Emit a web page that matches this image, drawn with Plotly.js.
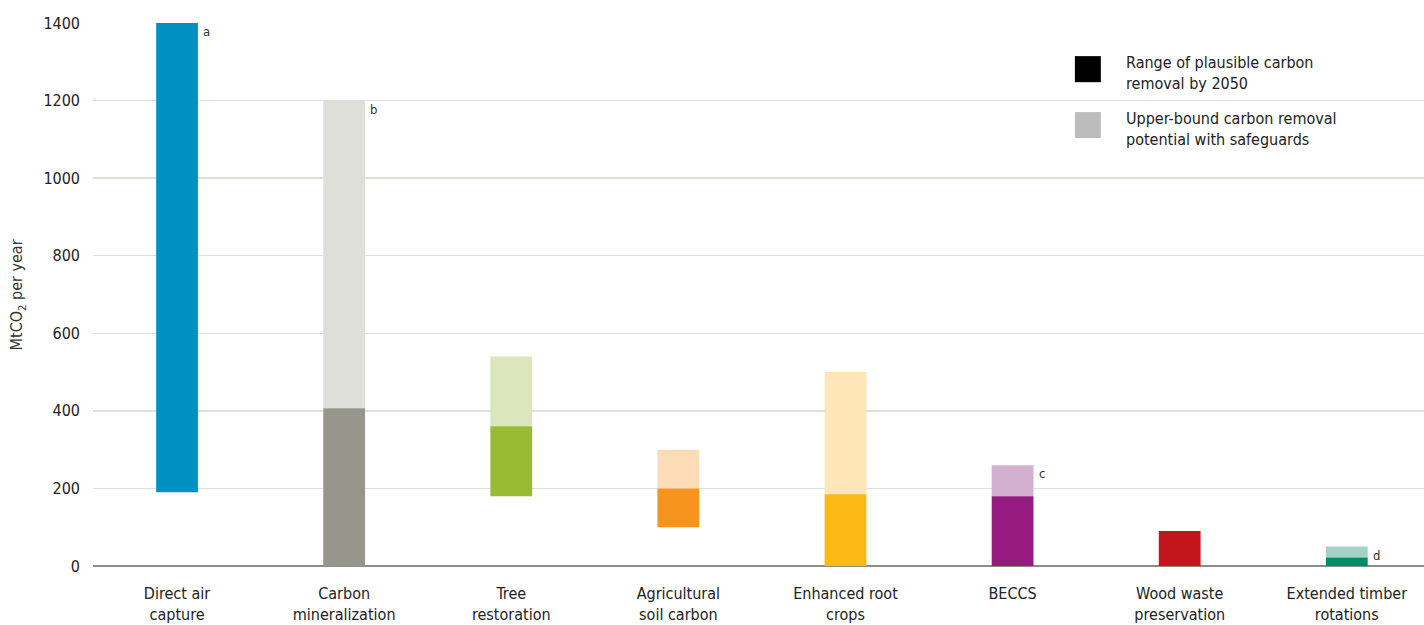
<!DOCTYPE html>
<html>
<head>
<meta charset="utf-8">
<script src="https://cdn.plot.ly/plotly-3.0.1.min.js"></script>
<style>html,body{margin:0;padding:0;background:#fff;}#chart{width:1424px;height:625px;}</style>
</head>
<body>
<div id="chart"></div>
<script>
const categories = ["Direct air<br>capture", "Carbon<br>mineralization", "Tree<br>restoration", "Agricultural<br>soil carbon", "Enhanced root<br>crops", "BECCS", "Wood waste<br>preservation", "Extended timber<br>rotations"];
const rangeLow = [190, 0, 180, 100, 0, 0, 0, 0];
const rangeHigh = [1400, 407, 360, 200, 185, 180, 90, 22];
const upperBound = [null, 1200, 540, 300, 500, 260, null, 50];
const notes = ["a", "b", "", "", "", "c", "", "d"];
const darkColors = ["#0091c3", "#96968c", "#97bb33", "#f7941e", "#fbb817", "#951b81", "#c3161c", "#008c66"];
const lightColors = ["#c9e3ef", "#dddfd8", "#dbe6bd", "#fddbb6", "#ffe6b8", "#d3afd0", "#f0c0c0", "#a5d1c4"];
const yTicks = [0, 200, 400, 600, 800, 1000, 1200, 1400];
const legendLabels = ["Range of plausible carbon<br>removal by 2050", "Upper-bound carbon removal<br>potential with safeguards"];
const legendColors = ["#000000", "#bcbcbc"];

const FONT = "'DejaVu Sans Condensed', 'Liberation Sans Narrow', Roboto, sans-serif";

const lightBase = [], lightLen = [];
for (let i = 0; i < categories.length; i++) {
  if (upperBound[i] === null) { lightBase.push(null); lightLen.push(null); }
  else { lightBase.push(rangeHigh[i]); lightLen.push(upperBound[i] - rangeHigh[i]); }
}
const darkLen = rangeHigh.map((h, i) => h - rangeLow[i]);

const traces = [
  {type: "bar", x: categories, y: lightLen, base: lightBase, width: 0.25,
   marker: {color: lightColors, line: {width: 0}}, hoverinfo: "skip", showlegend: false},
  {type: "bar", x: categories, y: darkLen, base: rangeLow, width: 0.25,
   marker: {color: darkColors, line: {width: 0}}, hoverinfo: "skip", showlegend: false}
];

const annotations = [];
for (let i = 0; i < categories.length; i++) {
  if (!notes[i]) continue;
  const top = upperBound[i] !== null ? upperBound[i] : rangeHigh[i];
  annotations.push({x: categories[i], y: top, xref: "x", yref: "y", text: notes[i],
    showarrow: false, xanchor: "left", yanchor: "top", xshift: 24, yshift: 1,
    font: {family: FONT, size: 13, color: "#333"}});
}
const shapes = [
  {type: "rect", xref: "paper", yref: "paper", x0: 0.7205, x1: 0.9534, y0: 0.76, y1: 0.97,
   fillcolor: "#ffffff", line: {width: 0}, layer: "below"}
];
const legendY = [0.915, 0.812];
for (let k = 0; k < 2; k++) {
  shapes.push({type: "rect", xref: "paper", yref: "paper",
    x0: 0.7377, x1: 0.7572, y0: legendY[k] - 0.024, y1: legendY[k] + 0.024,
    fillcolor: legendColors[k], line: {width: 0}, layer: "above"});
  annotations.push({xref: "paper", yref: "paper", x: 0.7745, y: legendY[k] - 0.008, text: legendLabels[k],
    showarrow: false, xanchor: "left", yanchor: "middle", align: "left",
    font: {family: FONT, size: 16, color: "#222"}});
}
annotations.push({xref: "paper", yref: "paper", x: -0.0564, y: 0.5, xanchor: "center", yanchor: "middle",
  text: "MtCO<sub>2</sub> per year", textangle: -90, showarrow: false,
  font: {family: FONT, size: 16, color: "#333"}});

const layout = {
  width: 1424, height: 625,
  margin: {l: 93, r: 0, t: 23, b: 59},
  paper_bgcolor: "#fff", plot_bgcolor: "#fff",
  barmode: "overlay",
  showlegend: false,
  font: {family: FONT, size: 16, color: "#222"},
  xaxis: {type: "category", range: [-0.503, 7.462], showgrid: false, zeroline: false, showline: false,
    ticks: "", ticklabelstandoff: 16, tickfont: {family: FONT, size: 16, color: "#222"}},
  yaxis: {range: [0, 1400], tickvals: yTicks, ticktext: yTicks.map(String),
    showgrid: true, gridcolor: "#dfdfd9", gridwidth: 1.5,
    zeroline: true, zerolinecolor: "#8d8d86", zerolinewidth: 2.5,
    showline: false, ticks: "", ticklabelstandoff: 12,
    tickfont: {family: FONT, size: 16, color: "#222"}},
  shapes: shapes,
  annotations: annotations
};

Plotly.newPlot("chart", traces, layout, {displayModeBar: false, staticPlot: true});
</script>
</body>
</html>
